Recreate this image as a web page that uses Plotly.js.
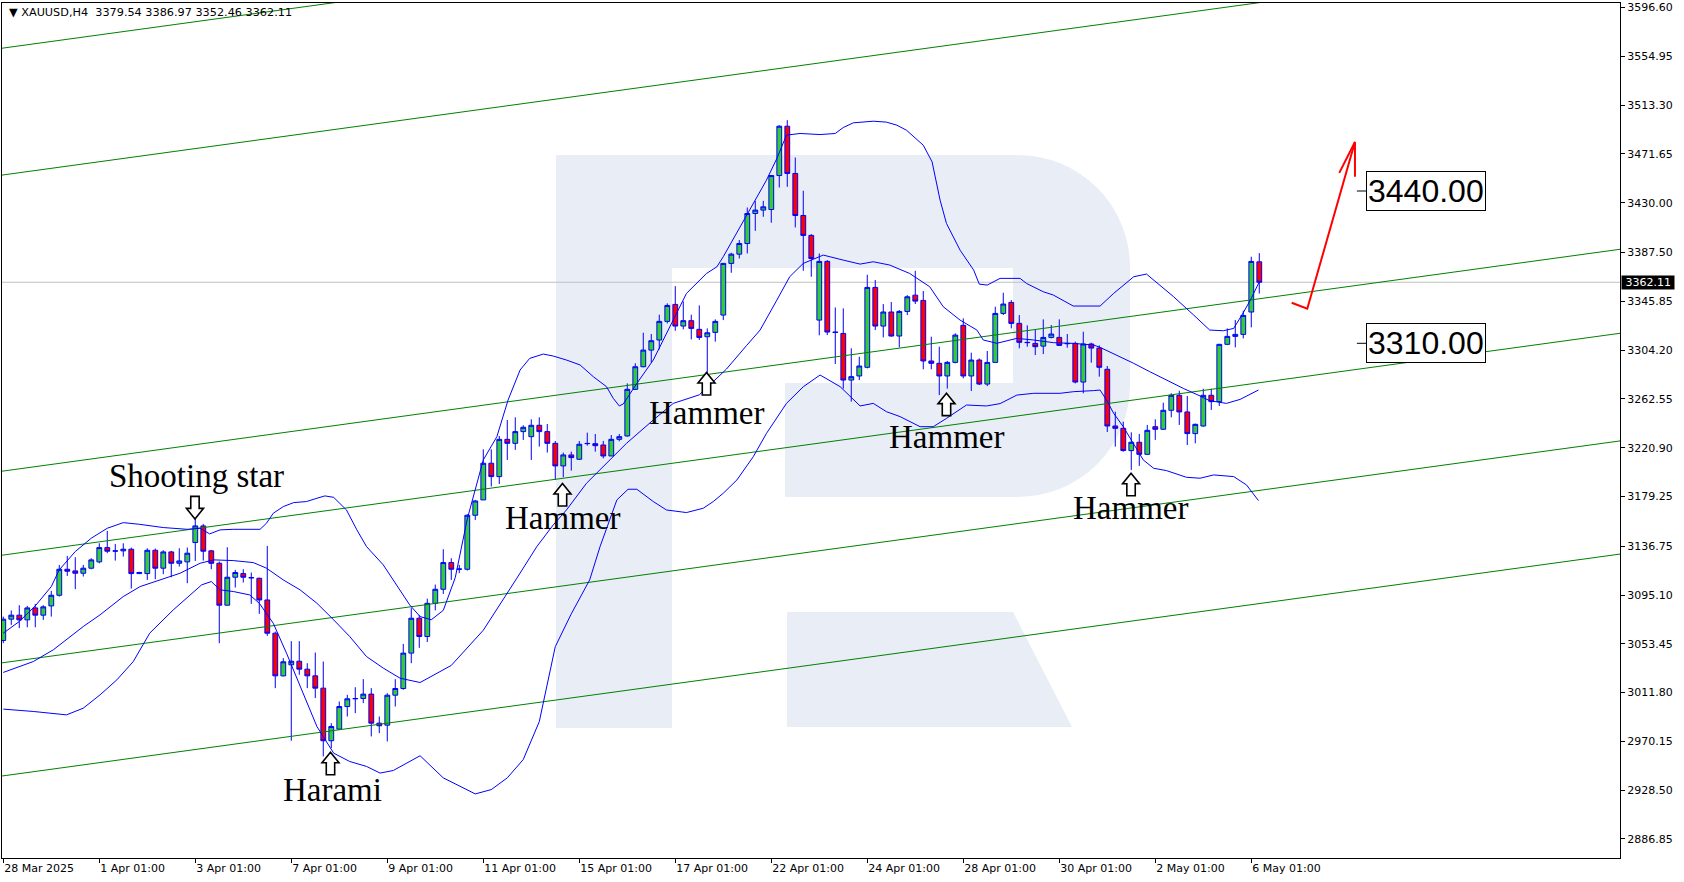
<!DOCTYPE html>
<html><head><meta charset="utf-8">
<script src="https://cdn.plot.ly/plotly-3.0.1.min.js"></script>
<style>html,body{margin:0;padding:0;background:#fff;}#chart{width:1684px;height:882px;}</style>
</head><body><div id="chart"></div>
<script>
// ---- candles (H4 XAUUSD) ----
const opens = [3056.3,3074.5,3077.9,3073.9,3084.1,3077.9,3085.8,3094.9,3117.1,3115.7,
3113.7,3118.0,3123.4,3135.6,3132.8,3132.8,3134.2,3113.4,3113.4,3133.3,
3118.0,3131.9,3122.2,3123.4,3139.9,3154.1,3132.8,3122.2,3086.4,3110.3,
3113.4,3110.0,3109.4,3090.9,3062.5,3026.1,3035.5,3038.6,3031.8,3026.1,
3015.6,2970.7,2980.6,2999.9,3006.8,3006.8,3010.5,2985.7,2984.0,3009.6,
3015.3,3045.5,3075.3,3059.7,3088.0,3100.0,3122.8,3117.1,3117.1,3163.2,
3176.3,3207.6,3196.2,3228.0,3224.6,3234.6,3230.3,3240.0,3234.6,3224.6,
3205.3,3214.7,3211.0,3224.3,3224.3,3223.2,3213.8,3228.0,3230.9,3270.7,
3290.0,3304.2,3312.8,3328.7,3343.2,3324.7,3329.3,3321.9,3315.6,3319.3,
3334.1,3378.2,3386.1,3395.2,3420.8,3423.7,3424.2,3453.2,3495.3,3455.0,
3419.1,3402.1,3329.8,3379.9,3319.6,3318.4,3278.6,3282.1,3289.5,3357.7,
3324.7,3336.7,3316.2,3337.2,3351.1,3346.6,3294.9,3292.9,3282.1,3293.7,
3325.3,3282.1,3295.7,3275.2,3293.7,3335.5,3344.9,3327.0,3310.8,3309.9,
3307.6,3315.0,3315.0,3309.9,3309.9,3276.9,3309.4,3305.9,3287.8,3239.4,
3237.4,3218.4,3225.5,3215.2,3238.8,3236.6,3252.8,3265.6,3251.4,3232.9,
3239.4,3265.6,3260.2,3309.1,3315.9,3317.6,3336.7,3379.54];
const highs = [3076.7,3081.9,3086.4,3085.8,3087.5,3086.4,3098.6,3120.8,3128.5,3127.4,
3120.8,3126.5,3139.3,3149.8,3138.7,3139.3,3135.6,3115.0,3135.0,3134.8,
3133.3,3132.8,3135.0,3135.6,3161.2,3155.8,3133.6,3123.7,3135.9,3116.6,
3117.1,3114.3,3110.0,3137.0,3063.9,3041.2,3055.7,3055.7,3036.9,3046.0,
3038.3,2985.7,3004.2,3009.9,3016.4,3023.3,3015.6,2991.4,3011.3,3023.3,
3053.4,3083.9,3078.0,3092.0,3104.0,3134.2,3126.5,3120.8,3164.0,3176.3,
3219.5,3219.5,3230.9,3244.5,3246.8,3240.0,3245.1,3246.8,3241.1,3226.6,
3216.7,3217.5,3226.6,3233.7,3232.6,3226.6,3231.7,3232.6,3275.8,3292.9,
3319.0,3317.9,3334.4,3344.1,3358.8,3345.8,3334.4,3342.3,3322.7,3330.4,
3378.5,3387.3,3398.1,3425.9,3431.6,3431.6,3453.5,3496.2,3500.5,3468.6,
3440.2,3403.2,3386.7,3381.0,3340.6,3339.8,3305.7,3298.5,3368.5,3364.0,
3343.5,3345.2,3338.4,3351.1,3371.9,3354.6,3315.6,3307.1,3294.9,3318.5,
3331.3,3302.0,3297.1,3303.4,3341.2,3353.2,3346.9,3334.1,3325.3,3321.9,
3330.4,3325.6,3330.4,3317.9,3311.4,3319.9,3310.5,3308.2,3290.6,3251.6,
3243.1,3234.0,3232.6,3240.3,3245.1,3259.3,3267.3,3269.5,3265.0,3241.5,
3271.2,3271.2,3309.5,3322.7,3329.9,3337.8,3383.9,3386.97];
const lows = [3054.0,3069.6,3066.8,3067.6,3067.6,3073.9,3076.7,3093.8,3111.4,3100.1,
3110.9,3117.1,3122.2,3130.8,3124.5,3127.9,3100.6,3113.0,3108.0,3108.6,
3112.9,3110.3,3119.4,3105.2,3124.2,3124.5,3117.1,3054.0,3086.4,3101.5,
3105.8,3087.5,3079.0,3060.2,3015.6,3025.6,2970.7,3027.0,3015.6,3007.1,
2957.3,2964.4,2980.1,2991.4,2994.3,3002.8,2974.4,2977.2,2970.1,2999.9,
3014.2,3036.9,3050.0,3055.0,3082.0,3096.0,3108.0,3113.7,3116.0,3159.2,
3176.3,3187.7,3189.9,3210.4,3219.0,3227.5,3210.4,3221.8,3216.7,3193.3,
3195.6,3201.3,3210.4,3222.6,3217.5,3211.8,3213.8,3226.3,3230.3,3270.1,
3289.5,3293.4,3304.8,3327.0,3320.7,3321.9,3313.3,3312.8,3283.8,3311.4,
3329.8,3370.2,3382.4,3386.7,3406.0,3418.0,3412.9,3443.0,3443.6,3408.9,
3371.9,3366.8,3316.8,3317.0,3292.3,3271.3,3260.2,3278.6,3288.6,3321.3,
3315.0,3315.6,3306.5,3334.1,3343.5,3287.8,3287.8,3265.8,3271.3,3292.9,
3280.1,3269.3,3274.4,3273.5,3293.7,3334.1,3322.7,3305.7,3307.1,3300.0,
3300.8,3314.2,3308.0,3306.2,3275.8,3267.3,3293.4,3281.5,3234.3,3221.8,
3217.5,3201.9,3205.3,3214.7,3227.5,3236.0,3246.8,3240.3,3223.2,3224.6,
3238.8,3253.1,3256.5,3308.5,3306.5,3314.2,3323.6,3352.46];
const closes = [3074.5,3077.9,3073.9,3084.1,3077.9,3085.0,3094.9,3117.1,3115.4,3113.7,
3118.0,3125.1,3135.6,3132.5,3132.6,3134.2,3113.4,3114.3,3133.3,3118.0,
3131.9,3122.2,3124.2,3130.8,3154.1,3132.5,3122.2,3086.4,3110.3,3114.3,
3110.3,3109.8,3090.9,3062.5,3026.1,3038.1,3038.6,3031.8,3026.1,3015.6,
2970.7,2982.9,2999.9,3006.5,3006.6,3010.5,2985.7,2983.5,3009.6,3015.3,
3045.5,3075.3,3059.7,3088.0,3100.0,3122.8,3117.1,3117.3,3163.2,3175.4,
3207.6,3196.2,3228.0,3224.6,3234.6,3238.3,3240.0,3234.6,3224.6,3205.3,
3214.7,3212.4,3223.8,3224.5,3222.6,3213.8,3228.0,3230.3,3270.7,3290.0,
3304.2,3312.2,3328.7,3342.3,3324.7,3329.3,3322.7,3315.0,3319.0,3328.7,
3378.2,3386.1,3395.2,3420.8,3423.7,3426.5,3453.2,3495.3,3455.0,3419.1,
3402.1,3382.4,3379.9,3319.6,3319.3,3278.6,3281.5,3290.6,3357.7,3324.7,
3336.7,3316.2,3337.2,3349.7,3346.0,3294.9,3292.9,3282.1,3293.7,3317.0,
3282.1,3295.7,3275.2,3293.7,3335.5,3343.5,3327.0,3310.8,3310.6,3307.1,
3315.0,3317.9,3308.2,3309.7,3276.9,3309.4,3305.9,3289.5,3239.4,3237.4,
3218.4,3225.5,3215.2,3235.7,3236.6,3252.8,3265.6,3251.4,3232.9,3240.8,
3265.6,3260.2,3309.1,3315.9,3317.6,3333.8,3379.9,3362.11];

// ---- Bollinger bands (bar position, price) ----
const upperX = [0,2,4,6,7,9,11,13,15,17,20,23,24.6,25.8,27.1,28.75,32.1,32.9,33.75,35,36.3,37.9,39.2,40.2,41.3,42.9,44.2,45.4,47.5,49.6,50.8,52.1,53.5,55,56.5,58,60,61.7,63.1,64.6,65.8,67.5,68.75,70.4,72.1,73.75,75.4,76.25,77,77.5,78.1,79.2,81.25,83.3,85.4,87.9,89.2,90,92.1,93.75,95.4,96.7,97.9,99.6,102.1,104,105,106.25,108.75,110.4,111.7,112.9,115,116.1,117.1,117.9,119.6,121.3,122,123,124.6,127.1,127.9,130,131.25,133.75,137.1,138.8,141.3,142.9,144.6,146.3,148.8,150.8,152.5,153.8,155,156,157];
const upperY = [3062.5,3072.5,3085.8,3102.3,3116.6,3132.2,3143.6,3152.1,3156.9,3155.5,3152.7,3151.2,3152.1,3147.3,3150.7,3151.2,3151.2,3156.4,3164.9,3170.6,3174.0,3174.9,3177.7,3179.7,3178.5,3167.7,3150.7,3136.5,3120.8,3099.5,3086.7,3076.7,3074,3082,3110,3160,3210.4,3230.3,3261.6,3287.2,3297.1,3300.8,3299.1,3295.7,3291.5,3281.5,3273.0,3263.0,3256.5,3258.2,3264.4,3275.8,3295.7,3324.2,3352.6,3369.6,3375.3,3383.9,3409.5,3429.4,3449.3,3467.8,3487.7,3489.1,3488.2,3489.1,3494.2,3498.2,3499.6,3498.8,3496.2,3491.9,3479.1,3464.9,3432.2,3412.3,3389.5,3372.5,3360.5,3359.7,3365.4,3365.4,3361.1,3354.0,3351.2,3341.8,3341.8,3352.6,3366.8,3369.1,3359.7,3349.7,3334.1,3321.3,3320.7,3322.7,3336.1,3348.3,3362.5];
const midX = [0,3.75,6.25,7.9,10,12.1,15,17.1,19.6,22.1,24.6,26.3,28.75,31.25,32.9,35,37.1,39.2,41.3,43.3,45.4,47.5,49.6,52.1,56,60,64.2,66.7,68.75,70.4,72.9,75.4,77.9,81.25,83.75,87,90.4,92.9,94.6,96.7,98.3,100,102.5,105,107.1,108.75,110.8,113.3,115.8,117.5,119.6,121.7,122.5,124.2,126.7,128.8,131.3,133.8,136.3,137.1,139.2,141.3,143.3,145.4,147.5,149.6,150.8,152.9,154.6,156.9];
const midY = [3029.0,3038.3,3048.3,3056.8,3068.2,3078.2,3093.8,3102.3,3108.0,3113.7,3122.2,3125.1,3124.5,3122.8,3118.0,3108.0,3099.5,3088.1,3073.9,3059.7,3042.6,3032.7,3024.1,3020.4,3035,3065,3109.5,3136.5,3155.0,3167.7,3190.5,3207.6,3224.6,3244.5,3258.7,3266,3288,3308,3321.3,3346.9,3366.8,3378.2,3385.3,3381.0,3377.6,3379.6,3376.8,3369.6,3358.3,3341.2,3329.8,3321.3,3312.8,3310,3314.2,3312.8,3310.5,3309.9,3308.5,3306.5,3300.0,3292.9,3285.8,3278.6,3271.5,3265.0,3261.0,3258.7,3262.1,3270.1];
const lowX = [0,3.75,7.9,10,12.1,14.2,16.25,18.3,21.25,23.3,24.8,26,27.1,28.75,30.8,32,33.75,35.4,37.1,39.2,41.3,43.3,45.4,47.1,48.75,50.4,52.1,55,59,61,63,65,67,69,71,73.3,74.6,76.7,78.1,79.2,81.25,82.9,85.4,87.5,88.75,90,91.7,93.75,95.4,97.9,100,102.1,104.6,107.1,108.75,110.4,112.1,114.6,116.25,117.9,120.4,122.9,124.6,126.7,128.8,132.1,133.8,136.3,137.1,137.9,138.8,140,141.3,142.5,143.8,145.4,147.9,149.6,151.3,153.8,155.4,156.9];
const lowY = [2997.7,2995.7,2992.8,2998.5,3009.9,3022.7,3038.3,3062.5,3082.4,3095.2,3103.8,3106.6,3099.5,3098.1,3095.2,3088.1,3071.0,3045.5,3017.0,2982.9,2960.1,2953.0,2948.8,2943.1,2945.3,2951.6,2957.9,2939,2925.3,2929,2939,2954.7,2987,3051,3079,3108.0,3136.5,3176.3,3185.4,3185.4,3174.9,3167.7,3165.5,3169.2,3174.9,3182.0,3193.3,3213.2,3233.1,3258.7,3272.9,3282.9,3273.0,3256.5,3258.7,3251.6,3247.4,3238.8,3238.8,3245.9,3257.3,3256.5,3258.5,3265.8,3267.3,3267.3,3268.7,3269.6,3270.1,3261.6,3250.2,3238.8,3224.6,3210.4,3203.3,3201.3,3195.6,3194.8,3197.6,3196.2,3189.1,3175.7];

// ---- channel lines (price at bar -1 and bar 203) ----
const channelLeft = [3561.1, 3452.8, 3200.0, 3128.3, 3036.4, 2939.8];
const channelRight = [3752.2, 3643.9, 3391.1, 3319.4, 3227.5, 3130.9];

// ---- axis ticks ----
const xTickBars = [0,12,24,36,48,60,72,84,96,108,120,132,144,156];
const xTickLabels = ['28 Mar 2025','1 Apr 01:00','3 Apr 01:00','7 Apr 01:00','9 Apr 01:00','11 Apr 01:00','15 Apr 01:00','17 Apr 01:00','22 Apr 01:00','24 Apr 01:00','28 Apr 01:00','30 Apr 01:00','2 May 01:00','6 May 01:00'];
const yTickLabels = ['3596.60','3554.95','3513.30','3471.65','3430.00','3387.50','3345.85','3304.20','3262.55','3220.90','3179.25','3136.75','3095.10','3053.45','3011.80','2970.15','2928.50','2886.85'];

// ---- pattern annotations ----
const patternText = ['Shooting star','Hammer','Hammer','Hammer','Hammer','Harami'];
const patternBar = [24.2, 69.9, 87.9, 117.9, 140.9, 41.1];
const patternPrice = [3196.7, 3160.9, 3250.7, 3229.6, 3169.5, 2928.9];
const arrowBar = [23.96, 69.9, 87.9, 117.9, 140.97, 40.9];
const arrowPrice = [3169.9, 3180.5, 3275.2, 3257.6, 3189.3, 2951.0];
const arrowDir = ['down','up','up','up','up','up'];

// ---- forecast ----
const forecastX = [161.05, 163.0, 168.96];
const forecastY = [3344.6, 3339.5, 3481.9];
const headX = [167.0, 168.96, 168.96];
const headY = [3455.5, 3481.9, 3452.1];
const targetLevels = [3440.00, 3310.00];
const lastPrice = closes[closes.length - 1];

const xs = closes.map((_, i) => i);
const traces = [];
channelLeft.forEach((v, k) => {
  traces.push({type:'scatter', mode:'lines', x:[-1, 203], y:[v, channelRight[k]],
    line:{color:'#008000', width:1}, hoverinfo:'skip', showlegend:false});
});
[[upperX,upperY],[midX,midY],[lowX,lowY]].forEach(([bx,by]) => {
  traces.push({type:'scatter', mode:'lines', x:bx, y:by, line:{color:'#0000ff', width:1},
    hoverinfo:'skip', showlegend:false});
});
traces.push({type:'candlestick', x:xs, open:opens, high:highs, low:lows, close:closes,
  increasing:{fillcolor:'#32cd32', line:{color:'#0000ff', width:1}},
  decreasing:{fillcolor:'#ff0000', line:{color:'#0000ff', width:1}},
  whiskerwidth:0, hoverinfo:'skip', showlegend:false});
traces.push({type:'scatter', mode:'lines', x:forecastX, y:forecastY, line:{color:'#ff0000', width:2},
  hoverinfo:'skip', showlegend:false});
traces.push({type:'scatter', mode:'lines', x:headX, y:headY, line:{color:'#ff0000', width:2},
  hoverinfo:'skip', showlegend:false});
targetLevels.forEach(t => {
  traces.push({type:'scatter', mode:'lines', x:[169.2, 170.4], y:[t, t], line:{color:'#000', width:1},
    hoverinfo:'skip', showlegend:false});
});

const ann = [];
patternText.forEach((t, k) => {
  ann.push({x:patternBar[k], y:patternPrice[k], xref:'x', yref:'y', text:t, showarrow:false,
    xanchor:'center', yanchor:'middle', font:{family:'Liberation Serif', size:33, color:'#000'}});
});
targetLevels.forEach(t => {
  ann.push({x:170.4, y:t, xref:'x', yref:'y', text:t.toFixed(2), showarrow:false, xanchor:'left', yanchor:'middle',
    bgcolor:'#fff', bordercolor:'#000', borderwidth:1, borderpad:1,
    font:{family:'Liberation Sans', size:32, color:'#000'}});
});
ann.push({x:1, y:lastPrice, xref:'paper', yref:'y', text:'&nbsp;' + lastPrice.toFixed(2) + '&nbsp;', showarrow:false,
  xanchor:'left', yanchor:'middle', bgcolor:'#000', borderpad:0, xshift:1,
  font:{family:'DejaVu Sans', size:11, color:'#fff'}});
const n = closes.length - 1;
ann.push({x:0.0029, y:0.989, xref:'paper', yref:'paper', xanchor:'left', yanchor:'middle', showarrow:false,
  text:'\u25BC XAUUSD,H4&nbsp;&nbsp;' + [opens[n], highs[n], lows[n], closes[n]].map(v => v.toFixed(2)).join(' '),
  font:{family:'DejaVu Sans', size:11.25, color:'#000'}});

// hollow pattern arrows: pixel-sized paths anchored at the data points
const upPath = 'M0,11.5 L8.5,1 L4.2,1 L4.2,-11 L-4.2,-11 L-4.2,1 L-8.5,1 Z';
const downPath = 'M0,-11.5 L8.5,-1 L4.2,-1 L4.2,11 L-4.2,11 L-4.2,-1 L-8.5,-1 Z';
const shapes = [{type:'line', xref:'paper', yref:'y', x0:0, x1:1, y0:lastPrice, y1:lastPrice,
  line:{color:'#c0c0c0', width:1}, layer:'below'}];
arrowBar.forEach((b, k) => {
  shapes.push({type:'path', xref:'x', yref:'y', xsizemode:'pixel', ysizemode:'pixel',
    xanchor:b, yanchor:arrowPrice[k], path: arrowDir[k]==='down' ? downPath : upPath,
    fillcolor:'#fff', line:{color:'#000', width:1.6}, layer:'above'});
});

const svg = '<svg xmlns="http://www.w3.org/2000/svg" width="1618" height="855" viewBox="0 0 1618 855" preserveAspectRatio="none">' +
  '<g fill="#e9edf5">' +
  '<rect x="554" y="152" width="116" height="573"/>' +
  '<path d="M670 152 L1016 152 A112 112 0 0 1 1128 264 L1128 382 A112 112 0 0 1 1016 494 L783 494 L783 380 L1011 380 L1011 265 L670 265 Z"/>' +
  '<path d="M785 609 L1011 609 L1070 724 L785 724 Z"/>' +
  '</g></svg>';

const layout = {
  width:1684, height:882,
  margin:{l:2, r:64, t:3, b:24, pad:0},
  paper_bgcolor:'#fff', plot_bgcolor:'rgba(0,0,0,0)',
  showlegend:false, hovermode:false, boxgap:0.4, boxgroupgap:0,
  xaxis:{range:[-0.16, 202.09], showgrid:false, zeroline:false, showline:true, mirror:true,
    linecolor:'#000', linewidth:1, ticks:'outside', ticklen:4, tickcolor:'#000',
    tickvals:xTickBars, ticktext:xTickLabels, ticklabelposition:'outside right',
    tickfont:{family:'DejaVu Sans', size:11, color:'#000'}, rangeslider:{visible:false}, fixedrange:true},
  yaxis:{range:[2870.6, 3600.5], side:'right', showgrid:false, zeroline:false, showline:true, mirror:true,
    linecolor:'#000', linewidth:1, ticks:'outside', ticklen:4, tickcolor:'#000',
    tickvals:yTickLabels.map(Number), ticktext:yTickLabels,
    tickfont:{family:'DejaVu Sans', size:11, color:'#000'}, fixedrange:true},
  shapes:shapes,
  images:[{source:'data:image/svg+xml;charset=utf-8,' + encodeURIComponent(svg), xref:'paper', yref:'paper',
    x:0, y:1, sizex:1, sizey:1, xanchor:'left', yanchor:'top', sizing:'stretch', layer:'below'}],
  annotations:ann
};
Plotly.newPlot('chart', traces, layout, {displayModeBar:false, staticPlot:true});
</script></body></html>
